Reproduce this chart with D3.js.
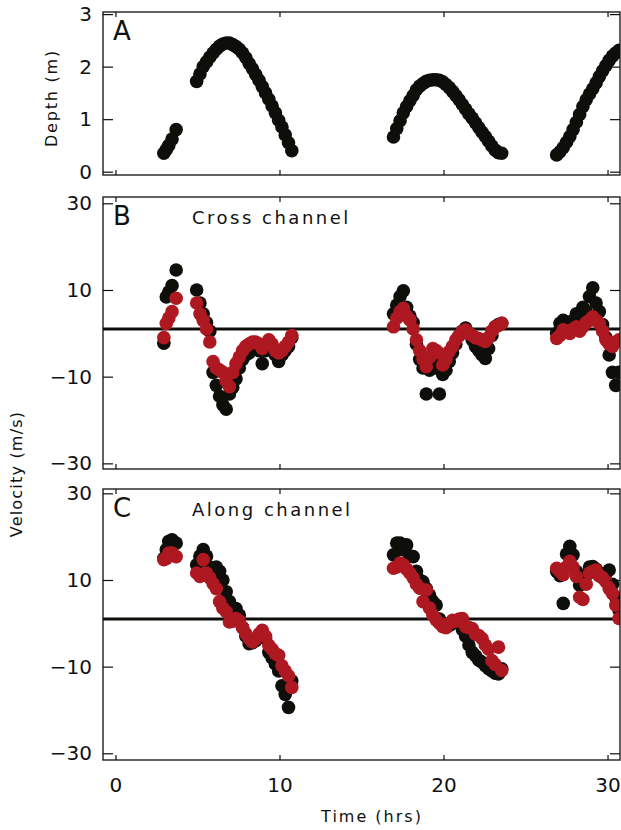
<!DOCTYPE html>
<html>
<head>
<meta charset="utf-8">
<script src="https://cdn.jsdelivr.net/npm/d3@7"></script>
<style>
  body { margin: 0; background: #fff; }
  svg { display: block; }
  text { font-family: "DejaVu Sans", sans-serif; fill: #111; }
</style>
</head>
<body>
<div id="chart"></div>
<script>
// sample times (hrs), shared by all three panels
const hours = [
  2.95, 3.1, 3.25, 3.45, 3.7,
  4.95, 5.15, 5.35, 5.55, 5.75, 5.95, 6.15, 6.35, 6.55, 6.75, 6.95, 7.15, 7.35, 7.55, 7.75,
  7.95, 8.15, 8.35, 8.55, 8.75, 8.95, 9.15, 9.35, 9.55, 9.75, 9.95, 10.15, 10.35, 10.55, 10.75,
  16.95, 17.15, 17.35, 17.55, 17.75, 17.95, 18.15, 18.35, 18.55, 18.75, 18.95, 19.15, 19.35, 19.55,
  19.75, 19.95, 20.15, 20.35, 20.55, 20.75, 20.95, 21.15, 21.35, 21.55, 21.75, 21.95, 22.15, 22.35,
  22.55, 22.75, 22.95, 23.15, 23.35, 23.55,
  26.9, 27.1, 27.3, 27.5, 27.7, 27.9, 28.1, 28.3, 28.5, 28.7, 28.9, 29.1, 29.3, 29.5, 29.7,
  29.9, 30.1, 30.3, 30.5, 30.7
];

const depth = [
  0.35, 0.42, 0.5, 0.62, 0.8,
  1.72, 1.86, 2.0, 2.09, 2.18, 2.26, 2.33, 2.39, 2.43, 2.45, 2.45, 2.42, 2.38, 2.33, 2.26,
  2.17, 2.06, 1.96, 1.85, 1.74, 1.62, 1.50, 1.38, 1.25, 1.12, 0.98, 0.85, 0.70, 0.55, 0.40,
  0.66, 0.82, 0.97, 1.12, 1.24, 1.35, 1.45, 1.56, 1.63, 1.68, 1.72, 1.74, 1.75, 1.75,
  1.74, 1.71, 1.66, 1.60, 1.53, 1.45, 1.37, 1.28, 1.19, 1.10, 1.02, 0.93, 0.84, 0.75,
  0.67, 0.58, 0.49, 0.41, 0.36, 0.35,
  0.32, 0.38, 0.46, 0.56, 0.67, 0.80, 0.94, 1.09, 1.24, 1.37, 1.48, 1.58, 1.69, 1.81, 1.92,
  2.02, 2.12, 2.20, 2.26, 2.31
];

// cross channel velocity, black and red series
const crossBlack = [
  -2.3, 8.4, 9.5, 11.0, 14.6,
  10.0, 7.0, 4.5, 2.5, 0.5, -9.0, -12.0, -14.5, -16.5, -17.5, -14.0, -12.5, -10.5, -8.0, -6.0,
  -5.0, -4.5, -3.5, -2.5, -4.0, -7.0, -4.0, -2.0, -3.0, -5.0, -6.5, -5.0, -4.0, -3.0, -1.0,
  4.5, 6.5, 8.5, 9.8, 6.0, 4.0, 2.5, -2.5, -6.0, -8.0, -14.0, -8.5, -6.0, -8.0,
  -14.0, -9.5, -8.5, -6.5, -4.5, -2.5, -0.5, 0.5, 1.2, 0.0, -1.5, -3.0, -4.0, -5.0,
  -5.8, -3.5, -0.5, 1.5, 2.0, 2.3,
  0.0, 2.3, 3.0, 2.0, 1.0, 3.0, 4.5, 3.5, 6.0, 5.0, 8.5, 10.5, 7.0, 5.0, 2.0,
  -1.0, -5.0, -9.0, -12.0, -9.0
];
const crossRed = [
  -1.0, 2.3, 3.5, 5.0, 8.1,
  7.0, 4.5, 3.0, 1.0, -2.0, -6.5, -8.0, -8.5, -9.0, -11.0, -12.3, -9.0, -7.0, -5.5, -4.0,
  -3.0, -2.5, -2.0, -2.0, -2.5, -3.5, -2.5, -1.5, -2.5, -4.0, -4.5, -4.0, -3.0, -2.0, -0.5,
  1.5, 3.5, 5.0, 5.8, 4.0, 3.1, 1.0, -1.5, -4.0, -6.0, -7.7, -5.5, -3.5, -4.0,
  -4.6, -7.3, -6.0, -4.2, -3.0, -1.5, -0.5, 0.4, 0.8, 0.0, -0.5, -1.0, -1.2, -1.5,
  -1.9, -1.0, 0.5, 1.5, 1.8, 2.3,
  -1.2, -0.5, 0.8, 0.5, 0.0, 1.0, 1.5, 0.5, 1.5, 2.5, 3.0, 3.8, 3.0, 2.3, 0.5,
  -1.5, -2.5, -3.0, -2.0, -1.5
];

// along channel velocity, black and red series
const alongBlack = [
  15.0, 17.0, 18.9, 19.3, 18.5,
  13.5, 15.5, 17.0, 15.5, 13.0, 11.5, 13.0, 12.0, 10.0, 7.3, 5.0, 3.0, 3.4, 1.9, -1.0,
  -3.0, -4.7, -4.5, -4.0, -3.0, -2.4, -3.5, -6.7, -8.0, -9.4, -11.0, -14.4, -16.4, -19.4, -13.3,
  15.8, 18.5, 18.5, 17.0, 18.1, 15.5, 15.4, 12.0, 10.0, 9.6, 8.0, 6.5, 5.0, 4.2,
  1.0, 0.0, -0.5, -0.5, 0.0, 0.5, 0.0, -1.5, -3.0, -5.0, -6.7, -7.5, -8.5, -9.0,
  -9.8, -10.5, -11.0, -11.5, -11.7, -10.5,
  12.0, 11.0, 4.6, 16.0, 17.8, 15.8, 12.0, 8.8, 9.5, 11.0, 13.0, 13.1, 12.5, 11.0, 11.5,
  11.5, 12.3, 9.0, 6.0, 3.0
];
const alongRed = [
  14.7, 15.0, 16.2, 16.2, 15.4,
  11.6, 10.8, 14.7, 11.6, 10.5, 9.2, 8.0, 5.0, 3.5, 2.7, 0.3, 0.5, 1.1, 0.5, -1.0,
  -2.4, -3.5, -4.3, -3.5, -2.5, -1.6, -3.0, -5.1, -6.0, -7.0, -7.4, -9.8, -11.0, -12.1, -14.8,
  12.7, 13.0, 13.9, 13.5, 12.5, 11.6, 10.5, 9.0, 8.1, 5.0, 7.7, 3.5, 1.9, 0.8,
  0.0, -0.8, -1.0, 0.0, 0.7, 0.5, 1.0, 1.1, -0.8, -1.0, -1.2, -2.5, -2.8, -3.5,
  -5.0, -6.0, -8.6, -9.5, -5.5, -10.9,
  12.7, 12.0, 11.2, 13.0, 14.3, 13.0, 10.8, 6.0, 5.5, 9.0, 11.6, 12.0, 12.3, 11.0, 10.5,
  9.6, 8.0, 6.9, 4.2, 1.1
];

const timeTicks = [0, 10, 20, 30];
const depthTicks = [0, 1, 2, 3];
const velocityTicks = [-30, -10, 10, 30];
const referenceLevel = 1;

const width = 621, height = 830;
const plotLeft = 103, plotRight = 620;
const black = "#0e0e0b", red = "#ae1820";

const svg = d3.select("#chart").append("svg")
  .attr("width", width)
  .attr("height", height);

const x = d3.scaleLinear().domain([-0.76, 30.76]).range([plotLeft, plotRight]);
const fmt = d => d < 0 ? "\u2212" + Math.abs(d) : String(d);

const panels = [
  { id: "A", top: 12, bottom: 175, domain: [-0.063, 3.04], ticks: depthTicks,
    series: [{ values: depth, color: black }] },
  { id: "B", top: 197, bottom: 469, domain: [-31.3, 31.45], ticks: velocityTicks,
    title: "Cross channel", line: true,
    series: [{ values: crossBlack, color: black }, { values: crossRed, color: red }] },
  { id: "C", top: 489, bottom: 760, domain: [-31.55, 31.0], ticks: velocityTicks,
    title: "Along channel", line: true, xLabels: true,
    series: [{ values: alongBlack, color: black }, { values: alongRed, color: red }] }
];

panels.forEach(p => {
  const y = d3.scaleLinear().domain(p.domain).range([p.bottom, p.top]);
  const g = svg.append("g");

  g.append("clipPath").attr("id", "clip" + p.id)
    .append("rect")
    .attr("x", plotLeft).attr("y", p.top)
    .attr("width", plotRight - plotLeft).attr("height", p.bottom - p.top);

  const marks = g.append("g").attr("clip-path", `url(#clip${p.id})`);

  if (p.line) {
    marks.append("line")
      .attr("x1", plotLeft).attr("x2", plotRight)
      .attr("y1", y(referenceLevel)).attr("y2", y(referenceLevel))
      .attr("stroke", black).attr("stroke-width", 3);
  }

  p.series.forEach(s => {
    marks.append("g")
      .selectAll("circle")
      .data(hours)
      .join("circle")
      .attr("cx", d => x(d))
      .attr("cy", (d, i) => y(s.values[i]))
      .attr("r", 6.8)
      .attr("fill", s.color);
  });

  // axes: ticks on all four sides, pointing in
  const left = g.append("g")
    .attr("transform", `translate(${plotLeft},0)`)
    .call(d3.axisLeft(y).tickValues(p.ticks).tickSize(-10).tickSizeOuter(0)
      .tickPadding(11).tickFormat(fmt));
  const right = g.append("g")
    .attr("transform", `translate(${plotRight},0)`)
    .call(d3.axisRight(y).tickValues(p.ticks).tickSize(-10).tickSizeOuter(0).tickFormat(""));
  const top = g.append("g")
    .attr("transform", `translate(0,${p.top})`)
    .call(d3.axisTop(x).tickValues(timeTicks).tickSize(-5).tickSizeOuter(0).tickFormat(""));
  const bottom = g.append("g")
    .attr("transform", `translate(0,${p.bottom})`)
    .call(d3.axisBottom(x).tickValues(timeTicks).tickSize(-5).tickSizeOuter(0)
      .tickPadding(18).tickFormat(p.xLabels ? fmt : ""));

  [left, right, top, bottom].forEach(a => {
    a.select(".domain").remove();
    a.selectAll(".tick line").attr("stroke", black).attr("stroke-width", 1.2);
    a.selectAll("text")
      .attr("font-family", "DejaVu Sans, sans-serif")
      .attr("font-size", 20)
      .attr("fill", "#111");
  });

  g.append("rect")
    .attr("x", plotLeft).attr("y", p.top)
    .attr("width", plotRight - plotLeft).attr("height", p.bottom - p.top)
    .attr("fill", "none").attr("stroke", black).attr("stroke-width", 1.3);

  g.append("text")
    .attr("x", 113).attr("y", p.top + 28)
    .attr("font-size", 26)
    .text(p.id);

  if (p.title) {
    g.append("text")
      .attr("x", 192).attr("y", p.top + 27)
      .attr("font-size", 18)
      .attr("letter-spacing", 2.5)
      .text(p.title);
  }
});

// axis titles
svg.append("text")
  .attr("transform", "translate(57,98) rotate(-90)")
  .attr("text-anchor", "middle")
  .attr("font-size", 16)
  .attr("letter-spacing", 1.8)
  .text("Depth (m)");

svg.append("text")
  .attr("transform", "translate(22,474) rotate(-90)")
  .attr("text-anchor", "middle")
  .attr("font-size", 16)
  .attr("letter-spacing", 1.2)
  .text("Velocity (m/s)");

svg.append("text")
  .attr("x", 372).attr("y", 822)
  .attr("text-anchor", "middle")
  .attr("font-size", 16)
  .attr("letter-spacing", 2)
  .text("Time (hrs)");
</script>
</body>
</html>
